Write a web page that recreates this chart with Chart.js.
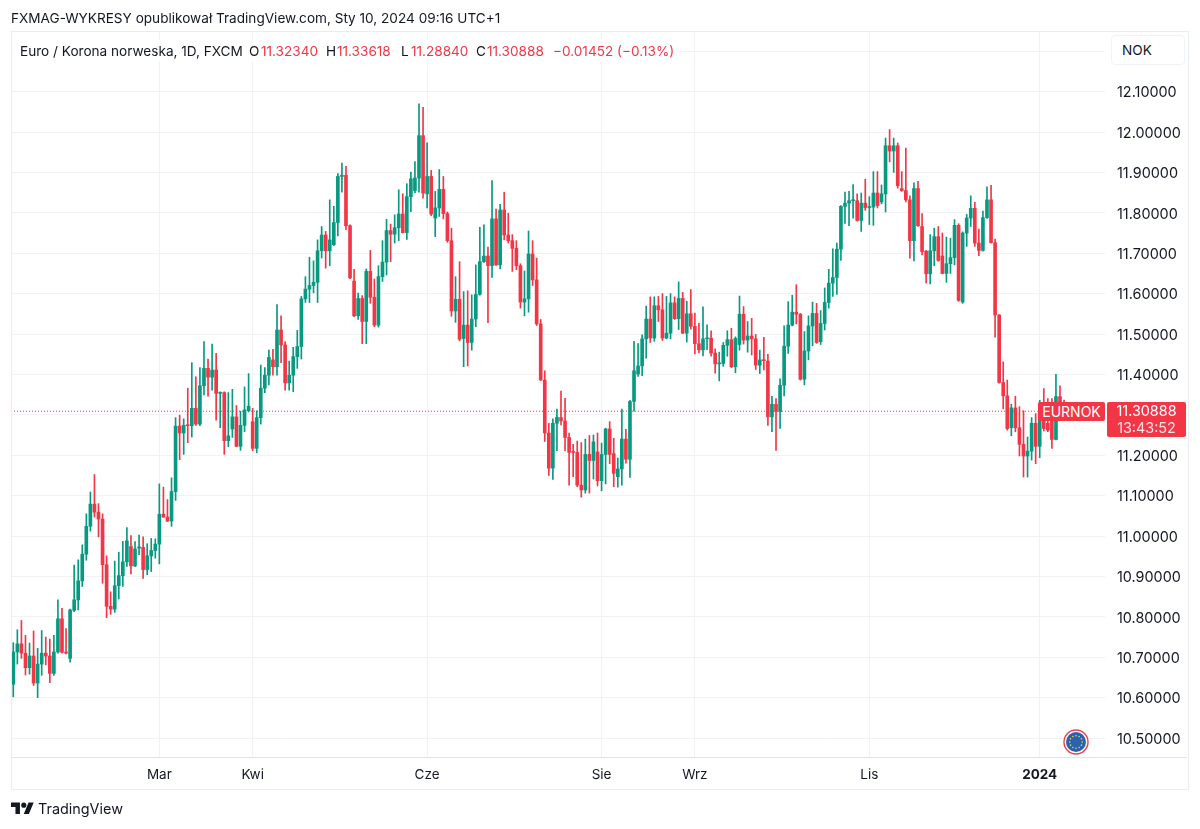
<!DOCTYPE html>
<html lang="pl">
<head>
<meta charset="UTF-8">
<title>EURNOK</title>
<script src="https://cdn.jsdelivr.net/npm/chart.js@4"></script>
<style>
  html, body { margin: 0; padding: 0; background: #fff; }
  body { width: 1200px; height: 829px; position: relative; overflow: hidden; font-family: Inter, "Liberation Sans", sans-serif; color: #131722; }
  canvas { position: absolute; left: 0; top: 0; }
  .t { position: absolute; white-space: nowrap; line-height: 16px; font-size: 13.6px; }
  .red { color: #f23645; }
  #frame { position: absolute; left: 11px; top: 31px; width: 1176px; height: 757px; border: 1px solid #e9ecf2; box-sizing: content-box; pointer-events: none; }
  #axisline { position: absolute; left: 11px; top: 757px; width: 1176px; height: 1px; background: #e0e3eb; }
  #legendbg { position: absolute; left: 13px; top: 40px; width: 666px; height: 22px; background: rgba(255,255,255,.85); }
  #nok { position: absolute; left: 1111px; top: 35px; width: 72px; height: 28px; border: 1px solid #f0f3fa; border-radius: 4px; background: #fff; font-size: 13.6px; line-height: 28px; text-indent: 10px; }
  #symbol { position: absolute; left: 1038px; top: 402px; width: 67px; height: 19px; background: #f23645; border-radius: 2px; color: #fff; font-size: 14px; line-height: 19px; text-align: center; }
  #price { position: absolute; left: 1107px; top: 402px; width: 79px; height: 35px; background: #f23645; border-radius: 2px; color: #fff; font-size: 14.4px; line-height: 17px; text-align: center; }
  #price span { display: block; }
  #price .cd { opacity: .85; }
</style>
</head>
<body>
<canvas id="chart" width="1200" height="829"></canvas>
<div id="frame"></div>
<div id="axisline"></div>
<div id="legendbg"></div>

<div class="t" style="left:11px;top:10px;">FXMAG-WYKRESY opublikował TradingView.com, Sty 10, 2024 09:16 UTC+1</div>
<div class="t" style="left:20px;top:43px;">Euro / Korona norweska, 1D, FXCM</div>
<div class="t" style="left:249px;top:43px;">O</div><div class="t red" style="left:261px;top:43px;">11.32340</div>
<div class="t" style="left:326px;top:43px;">H</div><div class="t red" style="left:337px;top:43px;">11.33618</div>
<div class="t" style="left:401px;top:43px;">L</div><div class="t red" style="left:411px;top:43px;">11.28840</div>
<div class="t" style="left:476px;top:43px;">C</div><div class="t red" style="left:487px;top:43px;">11.30888</div>
<div class="t red" style="left:553px;top:43px;">−0.01452 (−0.13%)</div>

<div id="nok">NOK</div>
<div id="symbol">EURNOK</div>
<div id="price"><span>11.30888</span><span class="cd">13:43:52</span></div>

<svg style="position:absolute;left:11px;top:800px;" width="23" height="18" viewBox="0 0 36 28">
  <path fill="#131722" d="M14 22H7V11H0V4h14v18zM28 22h-8l7.5-18h8L28 22z"/><circle fill="#131722" cx="20" cy="8" r="4"/>
</svg>
<div class="t" style="left:38px;top:801px;font-size:14.4px;">TradingView</div>

<svg id="flag" style="position:absolute;left:1063px;top:729px;" width="26" height="26" viewBox="-13 -13 26 26">
  <circle r="12" fill="#fff" stroke="#e8404f" stroke-width="1.4"/>
  <circle r="10" fill="#2a62ad"/>
</svg>

<script>
  var opens = [
    10.633,10.713,10.733,10.710,10.674,10.703,10.636,10.683,10.710,10.703,
    10.660,10.713,10.795,10.713,10.697,10.816,10.842,10.889,10.955,11.024,
    11.079,11.059,11.042,10.929,10.826,10.819,10.877,10.902,10.936,10.974,
    10.926,10.970,10.972,10.917,10.951,10.964,10.980,11.054,11.047,11.037,
    11.110,11.272,11.255,11.274,11.273,11.316,11.277,11.372,11.415,11.393,
    11.411,11.353,11.355,11.236,11.265,11.295,11.222,11.274,11.310,11.283,
    11.217,11.293,11.366,11.398,11.436,11.419,11.510,11.473,11.379,11.398,
    11.444,11.469,11.587,11.611,11.620,11.628,11.706,11.745,11.706,11.721,
    11.776,11.890,11.893,11.768,11.631,11.545,11.588,11.531,11.655,11.591,
    11.522,11.642,11.678,11.756,11.747,11.763,11.797,11.751,11.840,11.855,
    11.886,11.991,11.847,11.890,11.787,11.812,11.858,11.798,11.731,11.557,
    11.586,11.489,11.522,11.479,11.537,11.598,11.679,11.693,11.669,11.785,
    11.671,11.807,11.745,11.731,11.712,11.669,11.579,11.587,11.698,11.634,
    11.525,11.386,11.255,11.168,11.279,11.293,11.285,11.244,11.209,11.207,
    11.126,11.114,11.202,11.187,11.208,11.137,11.202,11.265,11.204,11.147,
    11.166,11.240,11.190,11.333,11.401,11.421,11.488,11.537,11.490,11.570,
    11.560,11.490,11.502,11.577,11.538,11.588,11.502,11.550,11.519,11.476,
    11.461,11.488,11.490,11.453,11.426,11.427,11.472,11.486,11.419,11.474,
    11.549,11.485,11.495,11.488,11.423,11.436,11.433,11.295,11.326,11.308,
    11.373,11.470,11.522,11.554,11.549,11.388,11.458,11.520,11.551,11.481,
    11.526,11.578,11.626,11.640,11.710,11.816,11.824,11.830,11.830,11.781,
    11.824,11.813,11.814,11.849,11.827,11.847,11.966,11.953,11.966,11.860,
    11.855,11.832,11.731,11.860,11.766,11.705,11.649,11.706,11.741,11.693,
    11.650,11.674,11.689,11.769,11.579,11.750,11.787,11.811,11.725,11.707,
    11.788,11.832,11.726,11.547,11.380,11.347,11.268,11.317,11.268,11.227,
    11.198,11.210,11.279,11.222,11.305,11.279,11.295,11.239,11.345,11.3234
  ];
  var closes = [
    10.713,10.733,10.710,10.674,10.703,10.636,10.683,10.710,10.703,10.660,
    10.713,10.795,10.712,10.710,10.817,10.842,10.889,10.955,11.024,11.079,
    11.059,11.042,10.929,10.826,10.819,10.877,10.902,10.936,10.988,10.926,
    10.968,10.973,10.917,10.951,10.964,10.980,11.054,11.047,11.037,11.110,
    11.272,11.255,11.274,11.273,11.316,11.277,11.372,11.415,11.393,11.411,
    11.353,11.355,11.236,11.248,11.295,11.222,11.274,11.312,11.321,11.217,
    11.293,11.366,11.398,11.442,11.419,11.510,11.473,11.379,11.398,11.444,
    11.469,11.587,11.611,11.620,11.628,11.706,11.745,11.706,11.733,11.776,
    11.890,11.893,11.768,11.639,11.545,11.588,11.531,11.655,11.591,11.522,
    11.642,11.678,11.756,11.747,11.763,11.797,11.751,11.840,11.884,11.886,
    11.991,11.849,11.890,11.797,11.812,11.858,11.798,11.731,11.557,11.586,
    11.487,11.522,11.479,11.537,11.598,11.679,11.693,11.669,11.785,11.671,
    11.807,11.745,11.731,11.712,11.669,11.579,11.587,11.698,11.634,11.525,
    11.386,11.255,11.168,11.279,11.294,11.285,11.244,11.207,11.207,11.126,
    11.114,11.202,11.187,11.233,11.137,11.202,11.265,11.202,11.155,11.166,
    11.240,11.190,11.333,11.409,11.421,11.488,11.537,11.490,11.570,11.560,
    11.490,11.502,11.577,11.538,11.588,11.502,11.550,11.519,11.476,11.461,
    11.488,11.490,11.453,11.426,11.427,11.472,11.486,11.419,11.489,11.549,
    11.485,11.495,11.488,11.423,11.436,11.434,11.295,11.326,11.308,11.373,
    11.470,11.522,11.554,11.549,11.388,11.458,11.520,11.551,11.479,11.526,
    11.578,11.626,11.640,11.710,11.816,11.824,11.830,11.832,11.781,11.824,
    11.813,11.814,11.849,11.818,11.847,11.966,11.953,11.966,11.867,11.855,
    11.832,11.731,11.860,11.768,11.704,11.649,11.706,11.741,11.682,11.650,
    11.674,11.689,11.769,11.583,11.750,11.787,11.811,11.725,11.707,11.788,
    11.832,11.726,11.547,11.380,11.347,11.266,11.317,11.268,11.227,11.198,
    11.210,11.279,11.222,11.305,11.266,11.262,11.239,11.345,11.3234,11.30888
  ];
  var highs = [
    10.736,10.768,10.791,10.754,10.735,10.765,10.722,10.766,10.750,10.745,
    10.754,10.842,10.821,10.771,10.819,10.928,10.941,10.978,11.055,11.109,
    11.152,11.080,11.055,10.951,10.862,10.938,10.960,10.987,11.021,11.001,
    10.986,11.002,10.998,10.981,10.994,10.993,11.129,11.121,11.090,11.144,
    11.293,11.299,11.290,11.366,11.429,11.394,11.417,11.481,11.438,11.475,
    11.452,11.357,11.357,11.355,11.363,11.323,11.309,11.369,11.402,11.316,
    11.310,11.423,11.417,11.460,11.462,11.573,11.545,11.481,11.433,11.467,
    11.509,11.593,11.642,11.690,11.681,11.733,11.766,11.754,11.832,11.816,
    11.897,11.923,11.915,11.770,11.660,11.601,11.595,11.661,11.707,11.636,
    11.669,11.731,11.784,11.772,11.795,11.857,11.847,11.872,11.901,11.927,
    12.070,12.061,11.973,11.905,11.853,11.907,11.890,11.802,11.762,11.642,
    11.679,11.605,11.607,11.597,11.671,11.764,11.770,11.715,11.880,11.809,
    11.821,11.851,11.799,11.746,11.731,11.674,11.656,11.755,11.731,11.688,
    11.536,11.409,11.279,11.290,11.314,11.359,11.341,11.255,11.227,11.235,
    11.231,11.240,11.249,11.250,11.255,11.230,11.267,11.283,11.242,11.193,
    11.314,11.264,11.336,11.482,11.476,11.498,11.569,11.592,11.592,11.593,
    11.600,11.593,11.600,11.592,11.629,11.603,11.581,11.610,11.552,11.527,
    11.567,11.523,11.508,11.463,11.455,11.479,11.508,11.514,11.493,11.594,
    11.568,11.531,11.539,11.499,11.460,11.492,11.450,11.346,11.340,11.389,
    11.520,11.580,11.596,11.622,11.551,11.506,11.545,11.579,11.576,11.558,
    11.614,11.660,11.711,11.725,11.818,11.851,11.853,11.870,11.847,11.849,
    11.883,11.840,11.902,11.902,11.869,11.985,12.006,11.985,11.973,11.902,
    11.960,11.842,11.874,11.878,11.798,11.707,11.746,11.762,11.766,11.750,
    11.740,11.737,11.783,11.773,11.753,11.796,11.842,11.826,11.760,11.804,
    11.864,11.868,11.735,11.548,11.431,11.386,11.326,11.346,11.320,11.310,
    11.245,11.293,11.303,11.336,11.365,11.340,11.340,11.400,11.372,11.33618
  ];
  var lows = [
    10.602,10.683,10.697,10.656,10.658,10.630,10.600,10.655,10.681,10.637,
    10.655,10.710,10.710,10.708,10.688,10.813,10.817,10.875,10.940,11.012,
    11.047,10.998,10.883,10.798,10.806,10.811,10.844,10.875,10.925,10.906,
    10.924,10.954,10.895,10.904,10.912,10.945,10.931,11.046,11.036,11.024,
    11.088,11.189,11.202,11.231,11.245,11.274,11.273,11.349,11.346,11.361,
    11.287,11.268,11.202,11.221,11.244,11.221,11.212,11.258,11.307,11.211,
    11.206,11.277,11.355,11.374,11.398,11.398,11.429,11.361,11.361,11.357,
    11.415,11.438,11.578,11.578,11.602,11.578,11.688,11.663,11.669,11.719,
    11.743,11.851,11.758,11.637,11.543,11.536,11.476,11.476,11.576,11.518,
    11.517,11.630,11.646,11.679,11.725,11.731,11.750,11.734,11.803,11.849,
    11.851,11.836,11.812,11.793,11.741,11.791,11.785,11.727,11.544,11.529,
    11.483,11.419,11.421,11.460,11.518,11.596,11.677,11.528,11.640,11.670,
    11.661,11.733,11.725,11.655,11.659,11.564,11.545,11.554,11.620,11.521,
    11.385,11.234,11.150,11.140,11.211,11.275,11.211,11.126,11.147,11.122,
    11.096,11.106,11.106,11.141,11.124,11.112,11.129,11.179,11.122,11.121,
    11.126,11.180,11.145,11.309,11.395,11.397,11.440,11.479,11.482,11.531,
    11.484,11.488,11.488,11.536,11.511,11.501,11.480,11.512,11.451,11.453,
    11.446,11.461,11.445,11.403,11.384,11.420,11.445,11.417,11.404,11.460,
    11.475,11.455,11.448,11.412,11.402,11.411,11.274,11.258,11.212,11.266,
    11.347,11.452,11.520,11.525,11.386,11.374,11.436,11.471,11.477,11.474,
    11.510,11.564,11.593,11.598,11.682,11.774,11.768,11.787,11.779,11.754,
    11.806,11.771,11.769,11.812,11.822,11.802,11.926,11.900,11.861,11.853,
    11.827,11.688,11.681,11.766,11.696,11.626,11.624,11.669,11.680,11.649,
    11.628,11.650,11.671,11.581,11.576,11.717,11.766,11.717,11.694,11.705,
    11.786,11.725,11.492,11.378,11.315,11.262,11.248,11.258,11.198,11.146,
    11.146,11.188,11.179,11.194,11.260,11.258,11.217,11.238,11.300,11.2884
  ];
  var monthIdx = [36, 59, 102, 145, 168, 211, 253];
  var monthLabels = ['Mar', 'Kwi', 'Cze', 'Sie', 'Wrz', 'Lis', '2024'];
  var priceTicks = [10.5, 10.6, 10.7, 10.8, 10.9, 11.0, 11.1, 11.2, 11.3, 11.4, 11.5, 11.6, 11.7, 11.8, 11.9, 12.0, 12.1, 12.2];
  var lastPrice = 11.30888;

  var GREEN = '#089981', RED = '#f23645';
  var xMin = -0.567, xMax = 269.09;

  // 12 little stars on the flag badge, not chart data
  var flag = document.getElementById('flag');
  for (var s = 0; s < 12; s++) {
    var dot = document.createElementNS('http://www.w3.org/2000/svg', 'circle');
    dot.setAttribute('cx', 6.3 * Math.cos(s * Math.PI / 6));
    dot.setAttribute('cy', 6.3 * Math.sin(s * Math.PI / 6));
    dot.setAttribute('r', 0.8);
    dot.setAttribute('fill', '#f2d24b');
    flag.appendChild(dot);
  }

  var colors = closes.map(function (c, i) { return c >= opens[i] ? GREEN : RED; });
  var wicks = highs.map(function (h, i) { return { x: i, y: [lows[i], h] }; });
  var bodies = opens.map(function (o, i) { return { x: i, y: [o, closes[i]] }; });

  new Chart(document.getElementById('chart'), {
    type: 'bar',
    data: {
      datasets: [
        { type: 'line', data: [{ x: xMin, y: lastPrice }, { x: 252.5, y: lastPrice }], borderColor: RED, borderWidth: 1, borderDash: [1, 2], pointRadius: 0, order: 3 },
        { data: wicks, backgroundColor: colors, barThickness: 1, grouped: false, order: 2 },
        { data: bodies, backgroundColor: colors, barThickness: 3, minBarLength: 1, grouped: false, order: 1 }
      ]
    },
    options: {
      responsive: false,
      animation: false,
      layout: { padding: { left: 11, top: 31, right: 12, bottom: 40 } },
      plugins: { legend: { display: false }, tooltip: { enabled: false }, title: { display: false } },
      scales: {
        x: {
          type: 'linear',
          offset: false,
          min: xMin,
          max: xMax,
          afterBuildTicks: function (axis) { axis.ticks = monthIdx.map(function (v) { return { value: v }; }); },
          afterFit: function (axis) { axis.height = 32; },
          grid: { color: '#f1f2f4', drawTicks: false, offset: false },
          border: { display: false },
          ticks: {
            autoSkip: false,
            maxRotation: 0,
            padding: 10,
            color: '#131722',
            font: function (ctx) {
              return { family: 'Inter', size: 13.5, weight: ctx.index === 6 ? 'bold' : 'normal' };
            },
            callback: function (v) { return monthLabels[monthIdx.indexOf(v)]; }
          }
        },
        y: {
          position: 'right',
          min: 10.453,
          max: 12.25,
          afterBuildTicks: function (axis) { axis.ticks = priceTicks.map(function (v) { return { value: v }; }); },
          afterFit: function (axis) { axis.width = 83; },
          grid: { color: '#f1f2f4', drawTicks: false },
          border: { display: false },
          ticks: {
            padding: 12,
            labelOffset: 1.5,
            color: '#131722',
            font: { family: 'Inter', size: 14.4 },
            callback: function (v) {
              // 11.3 and 12.2 sit under the price box and the NOK button
              if (v === 11.3 || v === 12.2) return '';
              return v.toFixed(5);
            }
          }
        }
      }
    }
  });
</script>
</body>
</html>
